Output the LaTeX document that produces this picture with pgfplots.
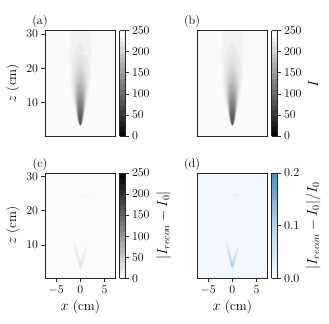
\documentclass[border=0pt]{standalone}
\usepackage{pgfplots}
\pgfplotsset{compat=1.18}
\definecolor{axc}{gray}{0.15}
\definecolor{dbg}{RGB}{241,247,253}
\definecolor{da}{RGB}{224,236,247}
\definecolor{db}{RGB}{200,221,240}
\definecolor{dc}{RGB}{165,203,229}
\newcommand\cblabel[1]{\fontsize{13.8}{15}\selectfont #1}
\pgfplotsset{
  colormap={mygray}{gray(0cm)=(0);gray(1cm)=(1)},
  colormap={mygrayr}{gray(0cm)=(1);gray(1cm)=(0)},
  colormap={myblues}{rgb255(0cm)=(247,251,255);rgb255(1cm)=(222,235,247);rgb255(2cm)=(198,219,239);rgb255(3cm)=(158,202,225);rgb255(4cm)=(107,174,214);rgb255(5cm)=(70,145,195)},
  panel/.style={
    scale only axis, width=70.7bp, height=105.3bp,
    xmin=-7.3, xmax=7.3, ymin=0.26, ymax=31, axis on top,
    axis line style={line width=0.8bp,draw=axc},
    tick style={line width=0.7bp,draw=axc},
    tick align=outside, major tick length=3.5bp,
    xtick pos=bottom, ytick pos=left,
    xtick={-5,0,5}, ytick={10,20,30},
    font=\fontsize{12.3}{14}\selectfont,
    tick label style={font=\fontsize{12.3}{14}\selectfont},
    label style={font=\fontsize{13.5}{15}\selectfont},
    xlabel={$x$ (cm)}, ylabel={$z$ (cm)},
    xlabel style={yshift=0bp}, ylabel style={yshift=0bp},
    colorbar, colorbar sampled,
    colorbar style={samples=21, width=5.5bp, height=105.3bp,
      at={(1.054,0.5)}, anchor=west,
      scale only axis,
      axis line style={line width=0.8bp,draw=axc},
      tick style={line width=0.7bp,draw=axc},
      tick align=outside, major tick length=3.5bp,
      ytick pos=right, yticklabel pos=right,
      yticklabel style={font=\fontsize{12.3}{14}\selectfont},
      ylabel near ticks,
    },
  },
  hf/.style={draw=none,fill=#1,forget plot},
  sf/.style={draw=none,fill=#1,forget plot,smooth cycle},
}
\newcommand\plume{%
\addplot[hf=black!5.5] coordinates {(-2.15,33)(-2.15,31)(-2.3,24)(-2.2,18)(-1.9,14)(-1.45,10)(-1.0,7)(-0.6,4.5)(0,3.0)(0.6,4.5)(1.0,7)(1.45,10)(1.9,14)(2.2,18)(2.3,24)(2.15,31)(2.15,33)} --cycle;
\addplot[sf=black!8.5] coordinates {(0,3.1)(0.74,5.5)(1.31,10.4)(1.75,17.7)(1.37,23.8)(0,27.5)(-1.37,23.8)(-1.75,17.7)(-1.31,10.4)(-0.74,5.5)};
\addplot[sf=black!11.5] coordinates {(0,3.2)(0.59,5.3)(1.05,9.4)(1.4,15.7)(1.09,20.9)(0,24)(-1.09,20.9)(-1.4,15.7)(-1.05,9.4)(-0.59,5.3)};
\addplot[sf=black!14.5] coordinates {(0,3.2)(0.51,5.0)(0.92,8.7)(1.22,14.2)(0.95,18.8)(0,21.5)(-0.95,18.8)(-1.22,14.2)(-0.92,8.7)(-0.51,5.0)};
\addplot[sf=black!17.5] coordinates {(0,3.2)(0.46,4.9)(0.83,8.2)(1.1,13.3)(0.86,17.5)(0,20)(-0.86,17.5)(-1.1,13.3)(-0.83,8.2)(-0.46,4.9)};
\addplot[sf=black!20] coordinates {(0,3.3)(0.42,4.8)(0.75,7.9)(1,12.5)(0.78,16.4)(0,18.7)(-0.78,16.4)(-1,12.5)(-0.75,7.9)(-0.42,4.8)};
\addplot[sf=black!23.1] coordinates {(0,3.3)(0.39,4.7)(0.69,7.6)(0.92,11.8)(0.72,15.4)(0,17.5)(-0.72,15.4)(-0.92,11.8)(-0.69,7.6)(-0.39,4.7)};
\addplot[sf=black!27] coordinates {(0,3.4)(0.36,4.7)(0.64,7.3)(0.85,11.1)(0.66,14.4)(0,16.3)(-0.66,14.4)(-0.85,11.1)(-0.64,7.3)(-0.36,4.7)};
\addplot[sf=black!31] coordinates {(0,3.4)(0.33,4.6)(0.59,6.9)(0.78,10.4)(0.61,13.3)(0,15)(-0.61,13.3)(-0.78,10.4)(-0.59,6.9)(-0.33,4.6)};
\addplot[sf=black!35] coordinates {(0,3.4)(0.30,4.5)(0.54,6.6)(0.72,9.8)(0.56,12.4)(0,14)(-0.56,12.4)(-0.72,9.8)(-0.54,6.6)(-0.30,4.5)};
\addplot[sf=black!39] coordinates {(0,3.4)(0.28,4.4)(0.50,6.3)(0.66,9.2)(0.51,11.6)(0,13)(-0.51,11.6)(-0.66,9.2)(-0.50,6.3)(-0.28,4.4)};
\addplot[sf=black!43] coordinates {(0,3.4)(0.25,4.3)(0.45,6.0)(0.6,8.6)(0.47,10.7)(0,12)(-0.47,10.7)(-0.6,8.6)(-0.45,6.0)(-0.25,4.3)};
\addplot[sf=black!47] coordinates {(0,3.4)(0.23,4.2)(0.41,5.7)(0.54,8.0)(0.42,9.9)(0,11)(-0.42,9.9)(-0.54,8.0)(-0.41,5.7)(-0.23,4.2)};
\addplot[sf=black!51] coordinates {(0,3.5)(0.20,4.2)(0.36,5.5)(0.48,7.4)(0.37,9.0)(0,10)(-0.37,9.0)(-0.48,7.4)(-0.36,5.5)(-0.20,4.2)};
\addplot[sf=black!55] coordinates {(0,3.5)(0.18,4.1)(0.32,5.2)(0.42,6.8)(0.33,8.2)(0,9)(-0.33,8.2)(-0.42,6.8)(-0.32,5.2)(-0.18,4.1)};
\addplot[sf=black!58] coordinates {(0,3.6)(0.15,4.0)(0.27,4.9)(0.36,6.2)(0.28,7.3)(0,8)(-0.28,7.3)(-0.36,6.2)(-0.27,4.9)(-0.15,4.0)};
\addplot[sf=black!62] coordinates {(0,3.6)(0.13,3.9)(0.23,4.6)(0.3,5.6)(0.23,6.5)(0,7)(-0.23,6.5)(-0.3,5.6)(-0.23,4.6)(-0.13,3.9)};
\addplot[sf=black!66] coordinates {(0,3.7)(0.09,3.9)(0.17,4.4)(0.22,5.1)(0.17,5.7)(0,6)(-0.17,5.7)(-0.22,5.1)(-0.17,4.4)(-0.09,3.9)};
}
\newcommand\veeshape[3]{%
\addplot[hf=#1] coordinates {(0,3.0)(0.45,3.9)(0.9,6)(1.35,9.3)(1.0,9.4)(0.55,7.5)(0.1,5.6)(-0.3,7)(-0.85,10.0)(-1.45,10.7)(-1.0,8)(-0.5,5.2)(-0.3,3.9)} --cycle;
\addplot[hf=#2] coordinates {(0,3.2)(0.3,4)(0.6,6)(0.85,8)(0.45,6.8)(0.05,4.9)(-0.3,6.5)(-0.85,8.8)(-0.95,8.2)(-0.55,5.5)(-0.25,4)} --cycle;
\addplot[hf=#3] coordinates {(0,3.4)(0.2,4.1)(0.35,5.5)(0.05,4.5)(-0.2,5.2)(-0.35,5.2)(-0.2,4.1)} --cycle;
}
\begin{document}
\begin{tikzpicture}
\useasboundingbox (0,0) rectangle (329bp,324bp);
% (a)
\begin{axis}[panel, at={(45bp,188bp)}, anchor=south west,
  axis background/.style={fill=black!2}, xlabel={}, xtick=\empty,
  colormap name=mygray, point meta min=0, point meta max=250,
  colorbar style={ytick={0,50,100,150,200,250}}]
\plume
\addplot[hf=black!3] coordinates {(0.6,24.6)(1.3,24.9)(2.0,25.1)(1.3,24.4)(0.6,24.2)} --cycle;
\end{axis}
\node[font=\fontsize{12.3}{14}\selectfont] at (40bp,303bp) {(a)};
% (b)
\begin{axis}[panel, at={(197bp,188bp)}, anchor=south west,
  axis background/.style={fill=black!2}, xlabel={}, ylabel={}, xtick=\empty, ytick=\empty,
  colormap name=mygray, point meta min=0, point meta max=250,
  colorbar style={ytick={0,50,100,150,200,250}, ylabel={\cblabel{$I$}}}]
\plume
\end{axis}
\node[font=\fontsize{12.3}{14}\selectfont] at (192bp,303bp) {(b)};
% (c)
\begin{axis}[panel, at={(45bp,45.7bp)}, anchor=south west,
  axis background/.style={fill=black!1.5},
  colormap name=mygrayr, point meta min=0, point meta max=250,
  colorbar style={ytick={0,50,100,150,200,250}, ylabel={\cblabel{$|I_{recon}-I_0|$}}}]
\veeshape{black!5}{black!8}{black!11}
\addplot[hf=black!4] coordinates {(0.3,24.5)(1.0,24.7)(1.6,24.4)(1.0,24.2)(0.3,24.2)} --cycle;
\end{axis}
\node[font=\fontsize{12.3}{14}\selectfont] at (40bp,160bp) {(c)};
% (d)
\begin{axis}[panel, at={(197bp,45.7bp)}, anchor=south west,
  axis background/.style={fill=dbg}, ylabel={}, ytick=\empty,
  colormap name=myblues, point meta min=0, point meta max=0.2,
  colorbar style={ytick={0,0.1,0.2}, yticklabels={0.0,0.1,0.2}, ylabel={\cblabel{$|I_{recon}-I_0|/I_0$}}}]
\veeshape{da}{db}{dc}
\addplot[hf=da] coordinates {(0.3,24.6)(1.0,24.8)(1.6,24.4)(1.0,24.2)(0.3,24.3)} --cycle;
\end{axis}
\node[font=\fontsize{12.3}{14}\selectfont] at (192bp,160bp) {(d)};
\end{tikzpicture}
\end{document}
